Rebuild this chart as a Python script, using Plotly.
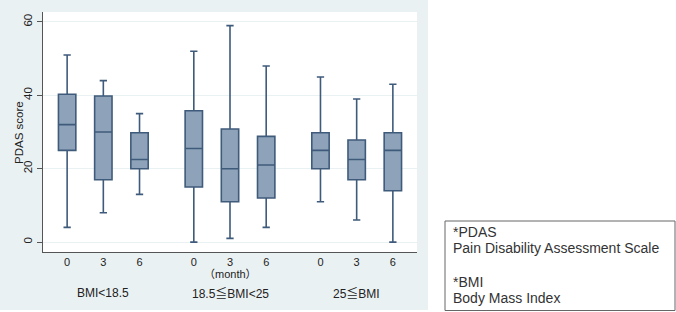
import plotly.graph_objects as go

groups = ["BMI<18.5", "18.5≦BMI<25", "25≦BMI"]
months = ["0", "3", "6"]
positions = [0, 1, 2, 3.5, 4.5, 5.5, 7, 8, 9]
tick_labels = months * 3

lower = [4, 8, 13, 0, 1, 4, 11, 6, 0]
q1 = [25, 17, 20, 15, 11, 12, 20, 17, 14]
median = [32, 30, 22.5, 25.5, 20, 21, 25, 22.5, 25]
q3 = [40.3, 39.8, 29.8, 35.8, 30.8, 28.8, 29.8, 27.8, 29.8]
upper = [51, 44, 35, 52, 59, 48, 45, 39, 43]

y_ticks = [0, 20, 40, 60]

panel = "#eaf1f3"
fill = "#8ea3b9"
line = "#3f5b7b"
font = "Liberation Sans, Arial, Noto Sans CJK JP, sans-serif"

fig = go.Figure()
fig.add_trace(go.Box(
    x=positions, q1=q1, median=median, q3=q3,
    lowerfence=lower, upperfence=upper,
    fillcolor=fill, line=dict(color=line, width=1.6),
    width=0.48, whiskerwidth=0.42, boxpoints=False, showlegend=False,
    hoverinfo="skip",
))

W, H = 676, 312
L, R, T, B = 43, 259, 12, 60
pw, ph = W - L - R, H - T - B

def px(x):
    return (x - L) / pw

def py(y):
    return (H - B - y) / ph

shapes = [
    dict(type="rect", xref="paper", yref="paper", x0=px(428), x1=px(W + 5),
         y0=py(H + 5), y1=py(-5), fillcolor="white", line=dict(width=0), layer="below"),
    dict(type="rect", xref="paper", yref="paper", x0=px(-5), x1=px(W + 5),
         y0=py(H + 5), y1=py(310), fillcolor="white", line=dict(width=0), layer="below"),
    dict(type="rect", xref="paper", yref="paper", x0=px(445), x1=px(675),
         y0=py(310.5), y1=py(221), fillcolor="white", line=dict(color="#666666", width=1)),
]

annotations = []
for i, g in enumerate(groups):
    annotations.append(dict(x=positions[i * 3 + 1], y=py(293), xref="x", yref="paper",
                            text=g, showarrow=False, font=dict(size=12, color="#222222"),
                            xanchor="center", yanchor="middle"))
annotations.append(dict(x=positions[4], y=py(274), xref="x", yref="paper",
                        text="（month）", showarrow=False, font=dict(size=11, color="#222222"),
                        xanchor="center", yanchor="middle"))
annotations.append(dict(x=px(19), y=py(132), xref="paper", yref="paper",
                        text="PDAS score", textangle=-90, showarrow=False,
                        font=dict(size=11.5, color="#222222"), xanchor="center", yanchor="middle"))
box_lines = [("*PDAS", 232), ("Pain Disability Assessment Scale", 248),
             ("*BMI", 281.5), ("Body Mass Index", 297.5)]
for txt, yy in box_lines:
    annotations.append(dict(x=px(451), y=py(yy), xref="paper", yref="paper",
                            text=txt, showarrow=False, font=dict(size=14, color="#333333"),
                            xanchor="left", yanchor="middle"))

fig.update_layout(
    width=W, height=H,
    margin=dict(l=L, r=R, t=T, b=B, pad=0),
    paper_bgcolor=panel, plot_bgcolor="white",
    font=dict(family=font, size=11, color="#222222"),
    shapes=shapes, annotations=annotations,
    xaxis=dict(range=[-0.667, 9.667], tickmode="array", tickvals=positions,
               ticktext=tick_labels, showgrid=False, zeroline=False,
               showline=True, linecolor="#555555", linewidth=1, ticks="",
               tickfont=dict(size=11), fixedrange=True),
    yaxis=dict(range=[-2.7, 62.7], tickmode="array", tickvals=y_ticks,
               showgrid=True, gridcolor=panel, gridwidth=1, zeroline=False,
               showline=True, linecolor="#555555", linewidth=1, ticks="outside",
               ticklen=5, tickcolor="#555555", tickangle=-90, tickfont=dict(size=11.5),
               fixedrange=True),
)

fig.write_html("out.html")
